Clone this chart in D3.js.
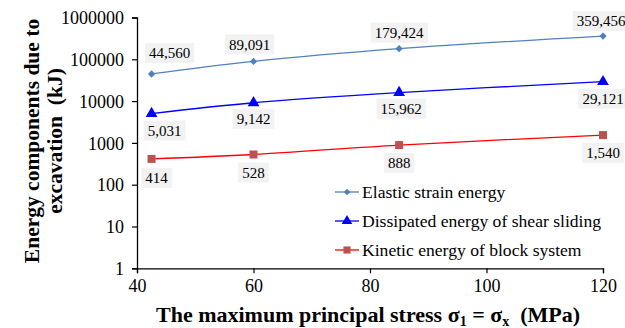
<!DOCTYPE html>
<html>
<head>
<meta charset="utf-8">
<script src="https://cdn.jsdelivr.net/npm/d3@7"></script>
<style>
  html, body { margin: 0; padding: 0; background: #fff; }
  svg text { font-family: "Liberation Serif", "Times New Roman", "DejaVu Serif", serif !important; }
</style>
</head>
<body>
<svg id="chart" width="625" height="328"></svg>
<script>
// data
const stressValues = [42.5, 60, 85, 120];
const elasticEnergy = [44560, 89091, 179424, 359456];
const shearEnergy = [5031, 9142, 15962, 29121];
const kineticEnergy = [414, 528, 888, 1540];
const seriesNames = [
  "Elastic strain energy",
  "Dissipated energy of shear sliding",
  "Kinetic energy of block system",
];
const xTicks = [40, 60, 80, 100, 120];
const yTicks = [1, 10, 100, 1000, 10000, 100000, 1000000];

// 樣式
const diamond = d3.symbolDiamond2 || d3.symbolDiamond;
const series = [
  { name: seriesNames[0], values: elasticEnergy, line: "#4f81bd", fill: "#4f81bd", symbol: diamond, size: 34,
    lab: [[18, -21], [-4, -17], [0, -16], [-2, -15]] },
  { name: seriesNames[1], values: shearEnergy, line: "#0000ff", fill: "#0000ff", symbol: d3.symbolTriangle, size: 60,
    lab: [[13, 17], [0, 16], [2, 16], [0, 17]] },
  { name: seriesNames[2], values: kineticEnergy, line: "#ff0000", fill: "#c0504d", symbol: d3.symbolSquare, size: 64,
    lab: [[5, 19], [0, 18], [0, 18], [0, 18]] },
];

const svg = d3.select("#chart");
const plotLeft = 137, plotRight = 603, plotTop = 17.5, plotBottom = 268.3;

const x = d3.scaleLinear().domain([40, 120]).range([plotLeft, plotRight]);
const y = d3.scaleLog().domain([1, 1000000]).range([plotBottom, plotTop]);

// 軸
const yAxis = svg.append("g")
  .attr("transform", `translate(${plotLeft},0)`)
  .call(d3.axisLeft(y).tickValues(yTicks).tickFormat(d3.format("d")).tickSize(5).tickPadding(8));
const xAxis = svg.append("g")
  .attr("transform", `translate(0,${plotBottom})`)
  .call(d3.axisBottom(x).tickValues(xTicks).tickSize(5).tickPadding(6));

[xAxis, yAxis].forEach((g) => {
  g.attr("font-family", null).attr("font-size", null);
  g.select(".domain").attr("stroke", "#000").attr("stroke-width", 1.3);
  g.selectAll(".tick line").attr("stroke", "#000").attr("stroke-width", 1.2);
  g.selectAll(".tick text")
    .attr("fill", "#000")
    .style("font-size", "18px");
});
yAxis.selectAll(".tick text").attr("dy", "0.34em");

// 線
const lineGen = d3.line()
  .x((d) => x(d[0]))
  .y((d) => y(d[1]))
  .curve(d3.curveCatmullRom.alpha(0.5));

series.forEach((s) => {
  const pts = stressValues.map((v, i) => [v, s.values[i]]);
  svg.append("path")
    .datum(pts)
    .attr("fill", "none")
    .attr("stroke", s.line)
    .attr("stroke-width", 1.3)
    .attr("d", lineGen);

  svg.selectAll(null)
    .data(pts)
    .enter()
    .append("path")
    .attr("transform", (d) => `translate(${x(d[0])},${y(d[1])})`)
    .attr("d", d3.symbol().type(s.symbol).size(s.size))
    .attr("fill", s.fill);

  // 數值標籤
  pts.forEach((d, i) => {
    const cx = x(d[0]) + s.lab[i][0];
    const cy = y(d[1]) + s.lab[i][1];
    const g = svg.append("g");
    const t = g.append("text")
      .attr("x", cx)
      .attr("y", cy)
      .attr("text-anchor", "middle")
      .attr("dy", "0.35em")
      .style("font-size", "15px")
      .attr("fill", "#000")
      .text(d3.format(",")(d[1]));
    const bb = t.node().getBBox();
    g.insert("rect", "text")
      .attr("x", bb.x - 4)
      .attr("y", cy - 10)
      .attr("width", bb.width + 8)
      .attr("height", 20)
      .attr("fill", "#f2f2f2");
  });
});

// 圖例
const legend = svg.append("g");
series.forEach((s, i) => {
  const ly = 192 + i * 29;
  legend.append("line")
    .attr("x1", 335).attr("x2", 359)
    .attr("y1", ly).attr("y2", ly)
    .attr("stroke", s.line).attr("stroke-width", 1.3);
  legend.append("path")
    .attr("transform", `translate(347,${ly})`)
    .attr("d", d3.symbol().type(s.symbol).size(s.size * 0.8))
    .attr("fill", s.fill);
  legend.append("text")
    .attr("x", 362)
    .attr("y", ly)
    .attr("dy", "0.35em")
    .style("font-size", "17.6px")
    .attr("fill", "#000")
    .text(s.name);
});

// 軸標題
const xTitle = svg.append("text")
  .attr("x", 368)
  .attr("y", 322)
  .attr("text-anchor", "middle")
  .style("font-size", "22px")
  .style("font-weight", "bold")
  .style("white-space", "pre")
  .attr("fill", "#000");
xTitle.append("tspan").text("The maximum principal stress σ");
xTitle.append("tspan").attr("dy", 4).style("font-size", "14px").text("1");
xTitle.append("tspan").attr("dy", -4).text(" = σ");
xTitle.append("tspan").attr("dy", 4).style("font-size", "14px").text("x");
xTitle.append("tspan").attr("dy", -4).text("  (MPa)");

const yTitle = svg.append("g")
  .attr("transform", "translate(0,141) rotate(-90)");
yTitle.append("text")
  .attr("x", 0).attr("y", 39)
  .attr("text-anchor", "middle")
  .style("font-size", "21.5px")
  .style("font-weight", "bold")
  .attr("fill", "#000")
  .text("Energy components due to");
yTitle.append("text")
  .attr("x", 0).attr("y", 62)
  .attr("text-anchor", "middle")
  .style("font-size", "21.5px")
  .style("font-weight", "bold")
  .attr("fill", "#000")
  .style("white-space", "pre")
  .text("excavation  (kJ)");
</script>
</body>
</html>
